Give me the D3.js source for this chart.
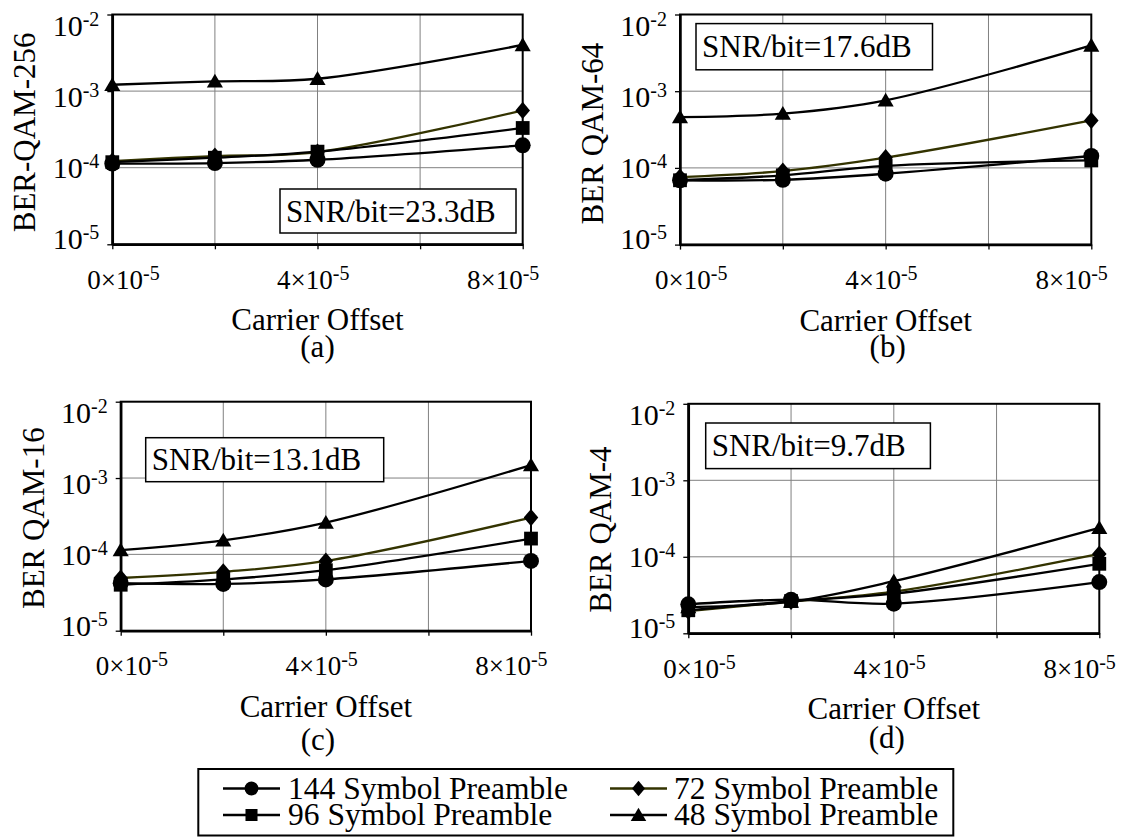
<!DOCTYPE html>
<html>
<head>
<meta charset="utf-8">
<script src="https://cdn.jsdelivr.net/npm/d3@7"></script>
<style>
  body { margin: 0; background: #fff; }
  svg { display: block; }
  text { font-family: "Liberation Serif", "Times New Roman", serif; fill: #000; }
</style>
</head>
<body>
<svg id="chart" width="1126" height="837"></svg>
<script>
// ---- data ----
const offsets = [0, 2e-5, 4e-5, 8e-5];          // carrier offset of each measurement
const xTickValues = [0, 2e-5, 4e-5, 6e-5, 8e-5];
const xLabelValues = [0, 4e-5, 8e-5];
const yTickValues = [1e-2, 1e-3, 1e-4, 1e-5];

// series order: 144, 72, 96, 48 symbol preamble
const seriesNames = ["144 Symbol Preamble", "72 Symbol Preamble", "96 Symbol Preamble", "48 Symbol Preamble"];

const berQam256 = [
  [1.13e-4, 1.15e-4, 1.27e-4, 1.96e-4],
  [1.22e-4, 1.42e-4, 1.60e-4, 5.6e-4],
  [1.18e-4, 1.35e-4, 1.62e-4, 3.3e-4],
  [1.21e-3, 1.34e-3, 1.45e-3, 4.0e-3]
];
const berQam64 = [
  [6.9e-5, 7.0e-5, 8.4e-5, 1.43e-4],
  [7.6e-5, 9.1e-5, 1.36e-4, 4.16e-4],
  [6.9e-5, 8.0e-5, 1.06e-4, 1.25e-4],
  [4.6e-4, 5.1e-4, 7.6e-4, 3.95e-3]
];
const berQam16 = [
  [4.2e-5, 4.1e-5, 4.7e-5, 8.2e-5],
  [4.9e-5, 5.9e-5, 8.2e-5, 3.03e-4],
  [4.0e-5, 4.7e-5, 6.2e-5, 1.61e-4],
  [1.14e-4, 1.53e-4, 2.61e-4, 1.48e-3]
];
const berQam4 = [
  [2.39e-5, 2.75e-5, 2.44e-5, 4.68e-5],
  [1.95e-5, 2.6e-5, 3.5e-5, 1.09e-4],
  [2.0e-5, 2.64e-5, 3.3e-5, 8.1e-5],
  [2.2e-5, 2.6e-5, 4.8e-5, 2.39e-4]
];

const panelData = [berQam256, berQam64, berQam16, berQam4];
const yTitles = ["BER-QAM-256", "BER QAM-64", "BER QAM-16", "BER QAM-4"];
const snrLabels = ["SNR/bit=23.3dB", "SNR/bit=17.6dB", "SNR/bit=13.1dB", "SNR/bit=9.7dB"];
const captions = ["(a)", "(b)", "(c)", "(d)"];

// ---- layout ----
const panels = [
  { left: 112.3, right: 522.7, top: 14.5, bottom: 244.3, box: [280, 189, 236, 44], capDx: 0, capY: 357, titleDy: 3 },
  { left: 680, right: 1091.3, top: 14.5, bottom: 244.6, box: [696, 23.6, 236.5, 46.2], capDx: 2, capY: 357, titleDy: 4 },
  { left: 120.7, right: 531, top: 401.7, bottom: 630.7, box: [145.7, 437.7, 238, 44], capDx: -8, capY: 750, titleDy: 2 },
  { left: 688.3, right: 1099.3, top: 403.8, bottom: 633.3, box: [705.7, 423, 224.7, 45.6], capDx: -7, capY: 748, titleDy: 11 }
];

const lineColors = ["#000", "#333300", "#000", "#000"];

// marker shapes
const diamondShape = {
  draw(ctx, size) {
    const r = Math.sqrt(size / 2);
    ctx.moveTo(0, -r * 1.08);
    ctx.lineTo(r * 0.92, 0);
    ctx.lineTo(0, r * 1.08);
    ctx.lineTo(-r * 0.92, 0);
    ctx.closePath();
  }
};
const triangleShape = {
  draw(ctx, size) {
    const w = Math.sqrt(size * 2.2);
    const h = w * 0.86;
    ctx.moveTo(0, -h * 0.55);
    ctx.lineTo(w / 2, h * 0.45);
    ctx.lineTo(-w / 2, h * 0.45);
    ctx.closePath();
  }
};
const markerTypes = [d3.symbolCircle, diamondShape, d3.symbolSquare, triangleShape];
const markerSizes = [200, 125, 190, 118];
const legendSizes = [150, 100, 145, 110];

const svg = d3.select("#chart");

panels.forEach((p, pi) => {
  const x = d3.scaleLinear().domain([0, 8e-5]).range([p.left, p.right]);
  const y = d3.scaleLog().domain([1e-5, 1e-2]).range([p.bottom, p.top]);
  const g = svg.append("g");

  // gridlines
  g.append("g").selectAll("line.vg")
    .data(xTickValues.slice(1, -1)).join("line")
    .attr("x1", d => x(d)).attr("x2", d => x(d))
    .attr("y1", p.top).attr("y2", p.bottom)
    .attr("stroke", "#808080").attr("stroke-width", 1);
  g.append("g").selectAll("line.hg")
    .data(yTickValues.slice(1, -1)).join("line")
    .attr("x1", p.left).attr("x2", p.right)
    .attr("y1", d => y(d)).attr("y2", d => y(d))
    .attr("stroke", "#808080").attr("stroke-width", 1);

  // plot frame
  g.append("rect")
    .attr("x", p.left).attr("y", p.top)
    .attr("width", p.right - p.left).attr("height", p.bottom - p.top)
    .attr("fill", "none").attr("stroke", "#000").attr("stroke-width", 2);

  // tick marks
  const xAxis = d3.axisBottom(x).tickValues(xTickValues).tickSize(5).tickSizeOuter(0).tickFormat("");
  const yAxis = d3.axisLeft(y).tickValues(yTickValues).tickSize(5).tickSizeOuter(0).tickFormat("");
  const gx = g.append("g").attr("transform", `translate(0,${p.bottom})`).call(xAxis);
  const gy = g.append("g").attr("transform", `translate(${p.left},0)`).call(yAxis);
  [gx, gy].forEach(a => {
    a.select(".domain").attr("stroke", "#000").attr("stroke-width", 2.5);
    a.selectAll(".tick line").attr("stroke", "#000").attr("stroke-width", 1.3);
  });

  // y tick labels  10^-k
  const yLab = v => p.top + 21 + (y(v) - p.top) * 0.93;
  yTickValues.forEach(v => {
    const t = g.append("text")
      .attr("x", p.left - 13).attr("y", yLab(v))
      .attr("text-anchor", "end").style("font-size", "30px");
    t.append("tspan").text("10");
    t.append("tspan").attr("dy", -10).style("font-size", "20px").text(String(Math.round(Math.log10(v))));
  });

  // x tick labels  m×10^-5
  const xLab = v => p.left - 25 + (x(v) - p.left) * 0.925;
  xLabelValues.forEach(v => {
    const t = g.append("text")
      .attr("x", xLab(v)).attr("y", p.bottom + 44.5)
      .attr("text-anchor", "start").style("font-size", "27px");
    t.append("tspan").text(`${Math.round(v / 1e-5)}×10`);
    t.append("tspan").attr("dy", -9).style("font-size", "20px").text("-5");
  });

  const cx = (p.left + p.right) / 2;
  const cy = (p.top + p.bottom) / 2;

  // axis titles
  g.append("text")
    .attr("x", cx).attr("y", p.bottom + 86)
    .attr("text-anchor", "middle").style("font-size", "31px")
    .text("Carrier Offset");
  g.append("text")
    .attr("x", cx + p.capDx).attr("y", p.capY)
    .attr("text-anchor", "middle").style("font-size", "31px")
    .text(captions[pi]);
  g.append("text")
    .attr("transform", `translate(${p.left - 77},${cy + p.titleDy}) rotate(-90)`)
    .attr("text-anchor", "middle").style("font-size", "31px")
    .text(yTitles[pi]);

  // series
  const line = d3.line()
    .x((d, i) => x(offsets[i]))
    .y(d => y(d))
    .curve(d3.curveCatmullRom.alpha(0.5));
  panelData[pi].forEach((vals, si) => {
    const sg = g.append("g");
    sg.append("path")
      .attr("d", line(vals))
      .attr("fill", "none")
      .attr("stroke", lineColors[si])
      .attr("stroke-width", 2.3);
    sg.selectAll("path.m").data(vals).join("path")
      .attr("transform", (d, i) => `translate(${x(offsets[i])},${y(d)})`)
      .attr("d", d3.symbol().type(markerTypes[si]).size(markerSizes[si]))
      .attr("fill", "#000");
  });

  // SNR annotation box
  const [bx, by, bw, bh] = p.box;
  g.append("rect")
    .attr("x", bx).attr("y", by).attr("width", bw).attr("height", bh)
    .attr("fill", "#fff").attr("stroke", "#000").attr("stroke-width", 1.5);
  g.append("text")
    .attr("x", bx + 6).attr("y", by + bh / 2 + 10.5)
    .style("font-size", "31px")
    .text(snrLabels[pi]);
});

// ---- legend ----
const legend = svg.append("g");
legend.append("rect")
  .attr("x", 198.3).attr("y", 769).attr("width", 755).attr("height", 66.5)
  .attr("fill", "#fff").attr("stroke", "#000").attr("stroke-width", 2);

const legendCols = [{ x1: 223, x2: 280, tx: 288 }, { x1: 610, x2: 667, tx: 674 }];
const legendRows = [798.5, 825];
seriesNames.forEach((name, si) => {
  const col = legendCols[si % 2];
  const row = legendRows[Math.floor(si / 2)];
  const my = row - 10;
  legend.append("line")
    .attr("x1", col.x1).attr("x2", col.x2).attr("y1", my).attr("y2", my)
    .attr("stroke", lineColors[si]).attr("stroke-width", 2.3);
  legend.append("path")
    .attr("transform", `translate(${(col.x1 + col.x2) / 2},${my})`)
    .attr("d", d3.symbol().type(markerTypes[si]).size(legendSizes[si]))
    .attr("fill", "#000");
  legend.append("text")
    .attr("x", col.tx).attr("y", row)
    .style("font-size", "31.5px")
    .text(name);
});
</script>
</body>
</html>
